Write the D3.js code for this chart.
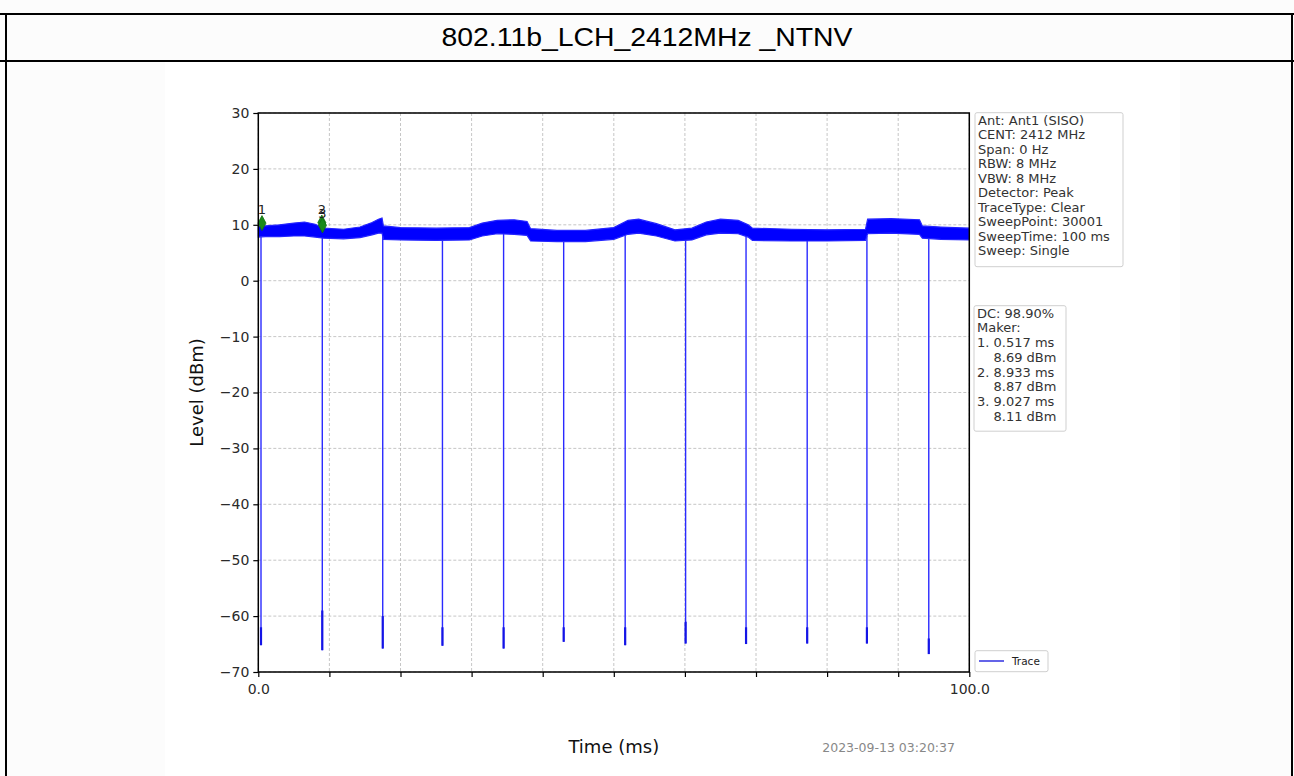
<!DOCTYPE html>
<html><head><meta charset="utf-8">
<script src="https://cdn.jsdelivr.net/npm/d3@7"></script>
<style>body{margin:0;background:#fff;overflow:hidden}</style>
</head><body><svg id="c" width="1294" height="776"></svg>
<script>
// ---------- data ----------
const title = "802.11b_LCH_2412MHz _NTNV";
const xLabel = "Time (ms)";
const yLabel = "Level (dBm)";
const timestamp = "2023-09-13 03:20:37";
const yTicks = [30, 20, 10, 0, -10, -20, -30, -40, -50, -60, -70];
const xTicks = [0, 10, 20, 30, 40, 50, 60, 70, 80, 90, 100];
const xTickLabels = ["0.0", "", "", "", "", "", "", "", "", "", "100.0"];

// trace envelope (max / min per region)
const envTime  = [0, 1, 3, 5, 6.5, 8, 9.2, 12, 14.3, 16, 16.9, 17.4, 17.6, 20, 25, 29.7, 31.5, 33.6, 36, 37.8, 38.3, 42, 46, 50, 52, 53.5, 56, 58.6, 61, 63, 65, 67.5, 68.9, 69.5, 75, 80, 85.4, 85.7, 89, 93, 93.4, 96, 100];
const envUpper = [9.7, 9.8, 10.0, 10.3, 10.5, 10.1, 9.4, 9.2, 9.6, 10.4, 11.0, 11.2, 9.8, 9.5, 9.4, 9.5, 10.3, 10.8, 10.9, 10.6, 9.3, 9.0, 9.0, 9.5, 10.8, 11.0, 10.2, 9.1, 9.4, 10.5, 11.0, 10.8, 10.0, 9.4, 9.2, 9.1, 9.2, 11.0, 11.1, 10.9, 9.8, 9.6, 9.4];
const envLower = [7.8, 7.9, 7.9, 8.0, 8.0, 7.8, 7.6, 7.5, 7.7, 8.2, 8.5, 8.5, 7.4, 7.3, 7.2, 7.3, 8.0, 8.4, 8.3, 8.1, 7.1, 7.0, 7.0, 7.4, 8.3, 8.5, 8.0, 7.1, 7.3, 8.2, 8.5, 8.4, 7.8, 7.2, 7.1, 7.1, 7.2, 8.4, 8.5, 8.3, 7.6, 7.4, 7.3];

// deep gaps between bursts
const dipTime = [0.38, 9.0, 17.5, 25.9, 34.5, 42.95, 51.6, 60.1, 68.6, 77.2, 85.6, 94.3];
const dipMin  = [-65.2, -66.1, -65.8, -65.3, -65.8, -64.6, -65.2, -64.9, -65.0, -64.9, -64.9, -66.8];
const dipKnee = [-62, -59, -60, -62, -62, -62, -62, -61, -62, -62, -62, -64];

// markers
const markerTime  = [0.517, 8.933, 9.027];
const markerLevel = [10.3, 10.4, 9.9];
const markerLabel = ["1", "2", "3"];

const infoLines = ["Ant: Ant1 (SISO)", "CENT: 2412 MHz", "Span: 0 Hz", "RBW: 8 MHz", "VBW: 8 MHz",
  "Detector: Peak", "TraceType: Clear", "SweepPoint: 30001", "SweepTime: 100 ms", "Sweep: Single"];
const markerInfoLines = ["DC: 98.90%", "Maker:", "1. 0.517 ms", "    8.69 dBm", "2. 8.933 ms",
  "    8.87 dBm", "3. 9.027 ms", "    8.11 dBm"];
const legendLabel = "Trace";

// ---------- drawing ----------
const svg = d3.select("#c");
const W = 1294, H = 776;
svg.append("rect").attr("width", W).attr("height", H).attr("fill", "#fcfcfc");
svg.append("rect").attr("x", 165).attr("y", 62).attr("width", 1015).attr("height", H - 62).attr("fill", "#fff");

// table frame
const frame = svg.append("g").attr("stroke", "#000").attr("stroke-width", 2);
frame.append("line").attr("x1", 0).attr("x2", W).attr("y1", 14).attr("y2", 14);
frame.append("line").attr("x1", 0).attr("x2", W).attr("y1", 61).attr("y2", 61);
frame.append("line").attr("x1", 6).attr("x2", 6).attr("y1", 14).attr("y2", H);
frame.append("line").attr("x1", 1292).attr("x2", 1292).attr("y1", 14).attr("y2", H);

svg.append("text").attr("x", 647).attr("y", 46).attr("text-anchor", "middle")
  .attr("font-family", "'Liberation Sans', Arial, sans-serif").attr("font-size", 25)
  .attr("textLength", 411).attr("lengthAdjust", "spacingAndGlyphs")
  .attr("fill", "#000").text(title);

const L = 258.3, R = 969.3, T = 113, B = 672;
const x = d3.scaleLinear().domain([0, 100]).range([L, R]);
const y = d3.scaleLinear().domain([-70, 30]).range([B, T]);
const font = "'DejaVu Sans', sans-serif";

// grid
const grid = svg.append("g").attr("stroke", "#b8b8b8").attr("stroke-width", 0.8).attr("stroke-dasharray", "3,2");
xTicks.forEach(t => grid.append("line").attr("x1", x(t)).attr("x2", x(t)).attr("y1", T).attr("y2", B));
yTicks.forEach(t => grid.append("line").attr("x1", L).attr("x2", R).attr("y1", y(t)).attr("y2", y(t)));

// trace band
const env = envTime.map((t, i) => ({t, hi: envUpper[i], lo: envLower[i]}));
svg.append("path").datum(env)
  .attr("d", d3.area().x(d => x(d.t)).y0(d => y(d.lo)).y1(d => y(d.hi)))
  .attr("fill", "#0000ff").attr("stroke", "#2424ff").attr("stroke-width", 1.2);

// dips
const loAt = t => d3.scaleLinear().domain(envTime).range(envLower)(t);
dipTime.forEach((t, i) => {
  svg.append("line").attr("x1", x(t)).attr("x2", x(t)).attr("y1", y(loAt(t))).attr("y2", y(dipMin[i]))
    .attr("stroke", "#2a2aff").attr("stroke-width", 1.4);
  svg.append("line").attr("x1", x(t)).attr("x2", x(t)).attr("y1", y(dipKnee[i])).attr("y2", y(dipMin[i]))
    .attr("stroke", "#1414e6").attr("stroke-width", 2.2);
});

// markers
markerTime.forEach((t, i) => {
  const cx = x(t), cy = y(markerLevel[i]);
  svg.append("path").attr("d", `M${cx},${cy - 7.5}L${cx + 4},${cy}L${cx},${cy + 7.5}L${cx - 4},${cy}Z`)
    .attr("fill", "#1a8a1a").attr("stroke", "#117011").attr("stroke-width", 0.8);
  svg.append("text").attr("x", cx).attr("y", cy - 9 + (i === 2 ? 2 : 0)).attr("text-anchor", "middle")
    .attr("font-family", font).attr("font-size", 13).attr("fill", "#222").text(markerLabel[i]);
});

// spines
const sp = svg.append("g").attr("stroke", "#000").attr("stroke-width", 1.5).attr("fill", "none");
sp.append("rect").attr("x", L).attr("y", T).attr("width", R - L).attr("height", B - T);

// axes
const yAxis = d3.axisLeft(y).tickValues(yTicks).tickSize(5).tickPadding(4)
  .tickFormat(d => d < 0 ? "\u2212" + Math.abs(d) : String(d));
const gy = svg.append("g").attr("transform", `translate(${L},0)`).call(yAxis);
gy.select(".domain").remove();
gy.selectAll("line").attr("stroke", "#000").attr("stroke-width", 1.2);
gy.selectAll("text").attr("font-family", font).attr("font-size", 14).attr("fill", "#2a2a2a");

const xAxis = d3.axisBottom(x).tickValues(xTicks).tickSize(5).tickPadding(7)
  .tickFormat((d, i) => xTickLabels[i]);
const gx = svg.append("g").attr("transform", `translate(0,${B})`).call(xAxis);
gx.select(".domain").remove();
gx.selectAll("line").attr("stroke", "#000").attr("stroke-width", 1.2);
gx.selectAll("text").attr("font-family", font).attr("font-size", 14).attr("fill", "#2a2a2a");

svg.append("text").attr("transform", `translate(203,${(T + B) / 2}) rotate(-90)`).attr("text-anchor", "middle")
  .attr("font-family", font).attr("font-size", 18).attr("fill", "#111").text(yLabel);
svg.append("text").attr("x", (L + R) / 2).attr("y", 753).attr("text-anchor", "middle")
  .attr("font-family", font).attr("font-size", 18).attr("fill", "#111").text(xLabel);
svg.append("text").attr("x", 955).attr("y", 752).attr("text-anchor", "end")
  .attr("font-family", font).attr("font-size", 12.5).attr("fill", "#888").text(timestamp);

// info boxes
function box(x0, y0, w, h, lines, lh) {
  svg.append("rect").attr("x", x0).attr("y", y0).attr("width", w).attr("height", h).attr("rx", 2)
    .attr("fill", "#fff").attr("stroke", "#cfcfcf").attr("stroke-width", 1);
  const t = svg.append("text").attr("font-family", font).attr("font-size", 13).attr("fill", "#333")
    .attr("xml:space", "preserve");
  lines.forEach((s, i) => t.append("tspan").attr("x", x0 + 3).attr("y", y0 + 12 + i * lh).text(s));
}
box(975, 112.7, 148, 154, infoLines, 14.5);
box(974, 305.7, 92, 125.5, markerInfoLines, 14.7);

// legend
svg.append("rect").attr("x", 975).attr("y", 650.7).attr("width", 73).attr("height", 21).attr("rx", 2)
  .attr("fill", "#fff").attr("stroke", "#cfcfcf");
svg.append("line").attr("x1", 979).attr("x2", 1004).attr("y1", 661).attr("y2", 661)
  .attr("stroke", "#3030e0").attr("stroke-width", 1.5);
svg.append("text").attr("x", 1012).attr("y", 665).attr("font-family", font).attr("font-size", 10.5)
  .attr("fill", "#222").text(legendLabel);
</script></body></html>
